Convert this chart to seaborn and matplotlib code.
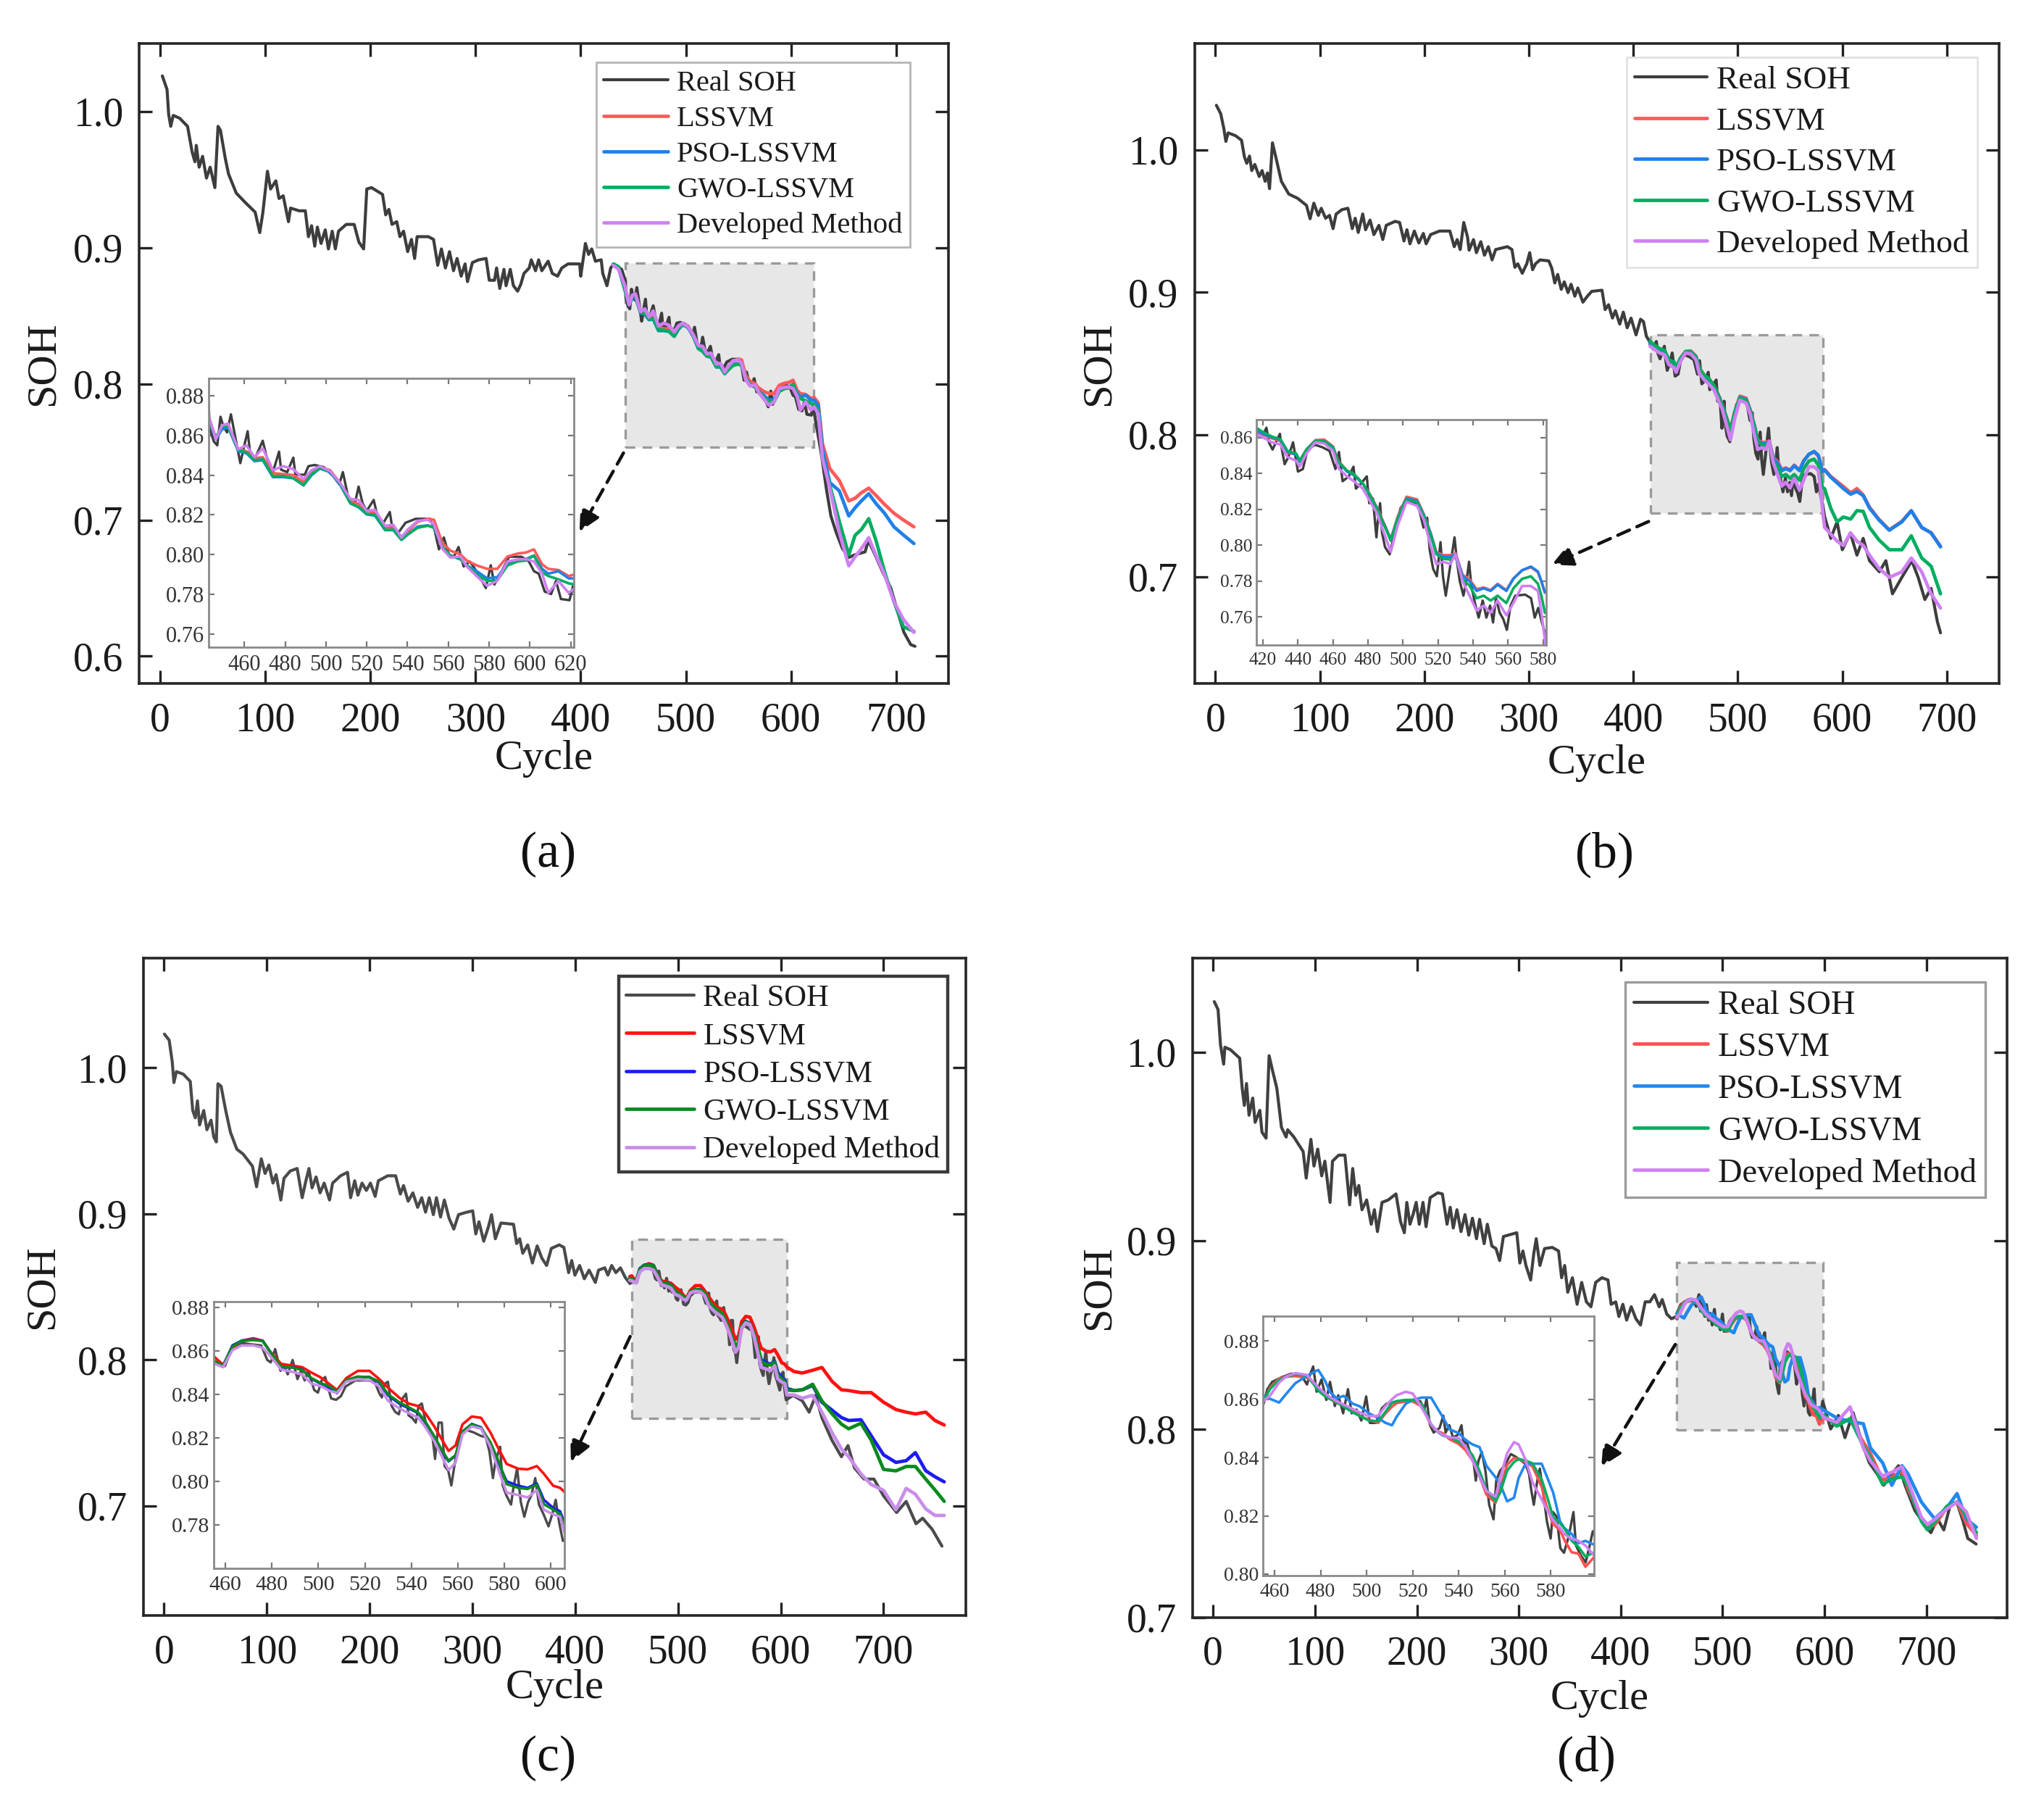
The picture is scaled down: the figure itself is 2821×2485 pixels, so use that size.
"""
plot.py
-------
Four panels of SOH estimation (real vs. LSSVM variants), each with a zoomed inset.
"""

import matplotlib
matplotlib.use("Agg")
import matplotlib.pyplot as plt
import numpy as np
import seaborn as sns
from matplotlib.patches import Rectangle

sns.set_theme(style="ticks")
plt.rcParams["font.family"] = ["Liberation Serif", "DejaVu Serif"]

# ========== 1. Data ==========
series_names = ["Real SOH", "LSSVM", "PSO-LSSVM", "GWO-LSSVM", "Developed Method"]

# --- panel (a) ---
a_cycle = [
    2, 6.5, 8, 10, 12.4, 18.4, 26, 30.4, 33, 34.3,
    37, 40.3, 44, 47.5, 52, 55, 57.3, 62, 65, 72.3,
    81, 90.3, 94.7, 97.7, 102, 105, 110, 113, 117, 122,
    124, 132, 138, 141, 144, 147, 149.5, 153, 157, 160,
    163.6, 166.6, 169.6, 177, 184.5, 189, 193.5, 196.5, 201, 211.5,
    214.5, 217.5, 220.5, 225, 228, 231.5, 235.4, 239, 242, 244.4,
    255, 260, 264, 267.5, 271.3, 275.2, 279, 282.4, 286.3, 290,
    292.3, 297, 303, 310, 313, 318, 320, 323, 327, 329,
    333, 336, 340, 343, 346, 351, 353, 357, 360, 363,
    369, 373, 378, 382, 388, 399, 400, 404.5, 407.5, 410.5,
    414, 419.5, 421, 425, 428.5, 431.5, 439, 442.5, 443, 445,
    446.7, 448.3, 449.7, 451.5, 453.4, 455.2, 458, 459.4, 461.6, 462.8,
    464.8, 469, 471, 474, 477, 478, 481, 484, 485, 489.6,
    491.4, 494.4, 499, 504, 506.5, 508.3, 511.3, 514.3, 516, 518,
    520, 523.4, 525.2, 528.2, 531.3, 532.5, 535.5, 539, 544, 551,
    553, 555.4, 557.8, 560.2, 562.7, 565, 567.5, 570.5, 572.3, 576.5,
    578.4, 580.8, 582.6, 586.2, 589.8, 595.9, 599.5, 602, 604.3, 607.3,
    610.4, 612.8, 615.2, 619.4, 621.2, 623.6, 629, 633.6, 638, 643,
    649, 655, 661, 670.5, 673.7, 680, 687, 695, 701, 707.5,
    714, 718,
]
a_real = [
    1.026, 1.016, 0.998, 0.989, 0.997, 0.995, 0.989, 0.970, 0.963, 0.975,
    0.959, 0.967, 0.951, 0.959, 0.944, 0.989, 0.986, 0.965, 0.954, 0.940,
    0.933, 0.926, 0.911, 0.926, 0.956, 0.943, 0.949, 0.936, 0.938, 0.919,
    0.929, 0.927, 0.927, 0.908, 0.916, 0.901, 0.915, 0.903, 0.913, 0.899,
    0.912, 0.899, 0.912, 0.917, 0.917, 0.904, 0.899, 0.943, 0.944, 0.939,
    0.924, 0.928, 0.917, 0.919, 0.908, 0.912, 0.897, 0.906, 0.892, 0.908,
    0.908, 0.906, 0.887, 0.899, 0.885, 0.897, 0.883, 0.892, 0.879, 0.888,
    0.875, 0.889, 0.891, 0.892, 0.876, 0.876, 0.885, 0.870, 0.884, 0.872,
    0.884, 0.872, 0.868, 0.873, 0.881, 0.885, 0.891, 0.883, 0.891, 0.883,
    0.890, 0.881, 0.879, 0.885, 0.888, 0.888, 0.879, 0.903, 0.895, 0.899,
    0.890, 0.891, 0.881, 0.872, 0.885, 0.888, 0.884, 0.8755, 0.8633, 0.857,
    0.855, 0.8694, 0.8645, 0.8615, 0.8706, 0.861, 0.846, 0.8524, 0.8621, 0.8512,
    0.8475, 0.8573, 0.8488, 0.8415, 0.8518, 0.8427, 0.8415, 0.8488, 0.8402, 0.8402,
    0.8445, 0.8451, 0.844, 0.839, 0.8354, 0.8415, 0.8269, 0.8263, 0.8342, 0.8257,
    0.822, 0.8275, 0.8196, 0.816, 0.8214, 0.8135, 0.811, 0.816, 0.818, 0.818,
    0.8135, 0.8026, 0.8086, 0.8001, 0.7989, 0.8038, 0.794, 0.7965, 0.794, 0.7867,
    0.7831, 0.7946, 0.7849, 0.7916, 0.7989, 0.7989, 0.7965, 0.7916, 0.7904, 0.7813,
    0.7801, 0.7867, 0.7776, 0.777, 0.7843, 0.772, 0.748, 0.7234, 0.703, 0.691,
    0.679, 0.6725, 0.6745, 0.6766, 0.685, 0.6745, 0.6623, 0.650, 0.634, 0.6175,
    0.6085, 0.6073,
]
a_pred_cycle = [
    431, 436, 442, 446, 449, 452, 457, 461, 465, 469,
    474, 479, 484, 489, 493, 497, 502, 507, 512, 516,
    520, 524, 529, 533, 537, 540, 545, 550, 553, 557,
    561, 566, 569, 574, 579, 584, 589, 594, 598, 602,
    606, 609, 614, 619, 622, 626, 630, 637, 646, 655,
    661, 667, 674, 681, 689, 698, 707, 717,
]
a_lssvm = [
    0.887, 0.885, 0.870, 0.859, 0.864, 0.8645, 0.853, 0.852, 0.8485, 0.849,
    0.841, 0.8405, 0.840, 0.8365, 0.841, 0.844, 0.8425, 0.836, 0.827, 0.8255,
    0.822, 0.821, 0.814, 0.8135, 0.809, 0.8115, 0.8165, 0.818, 0.8175, 0.806,
    0.802, 0.800, 0.797, 0.7945, 0.7928, 0.7928, 0.799, 0.8005, 0.801, 0.8026,
    0.795, 0.7928, 0.7922, 0.7892, 0.790, 0.786, 0.756, 0.7377, 0.729, 0.714,
    0.716, 0.720, 0.7234, 0.718, 0.7115, 0.705, 0.700, 0.695,
]
a_pso = [
    0.887, 0.885, 0.869, 0.858, 0.863, 0.864, 0.852, 0.851, 0.847, 0.8475,
    0.839, 0.839, 0.8384, 0.8348, 0.840, 0.8433, 0.8415, 0.8350, 0.8257, 0.8238,
    0.8202, 0.8196, 0.8123, 0.8123, 0.8074, 0.810, 0.8141, 0.8147, 0.8135, 0.8038,
    0.7995, 0.7977, 0.7946, 0.7916, 0.788, 0.7886, 0.7953, 0.7971, 0.7977, 0.7995,
    0.7928, 0.7904, 0.7916, 0.788, 0.788, 0.784, 0.752, 0.7275, 0.7214, 0.703,
    0.709, 0.714, 0.7193, 0.712, 0.705, 0.695, 0.689, 0.6827,
]
a_gwo = [
    0.888, 0.886, 0.869, 0.859, 0.8645, 0.8645, 0.8525, 0.8515, 0.8475, 0.848,
    0.8395, 0.8395, 0.8385, 0.835, 0.8405, 0.8435, 0.842, 0.8355, 0.826, 0.824,
    0.8205, 0.820, 0.8125, 0.8125, 0.8075, 0.810, 0.8135, 0.8145, 0.8135, 0.804,
    0.7995, 0.7975, 0.7945, 0.790, 0.7867, 0.787, 0.7945, 0.7965, 0.797, 0.7995,
    0.791, 0.7892, 0.7875, 0.7855, 0.7849, 0.780, 0.745, 0.7255, 0.699, 0.6745,
    0.6888, 0.693, 0.701, 0.6847, 0.6623, 0.640, 0.6216, 0.6183,
]
a_dev = [
    0.887, 0.884, 0.872, 0.858, 0.865, 0.866, 0.853, 0.855, 0.849, 0.8535,
    0.8425, 0.8445, 0.843, 0.838, 0.8425, 0.8445, 0.842, 0.836, 0.828, 0.8275,
    0.822, 0.8225, 0.8145, 0.815, 0.8085, 0.8125, 0.817, 0.8175, 0.815, 0.803,
    0.7985, 0.799, 0.794, 0.789, 0.7843, 0.7867, 0.7965, 0.7975, 0.7977, 0.7965,
    0.7904, 0.7807, 0.7867, 0.7807, 0.7831, 0.778, 0.745, 0.7234, 0.691, 0.6664,
    0.673, 0.679, 0.687, 0.674, 0.660, 0.640, 0.627, 0.6175,
]

# --- panel (b) ---
b_cycle = [
    0.9, 5.1, 8, 10, 12.2, 19.3, 25, 27.8, 30, 32.6,
    34.8, 37.7, 41.9, 44.7, 47.6, 49.8, 51.8, 54.6, 58.9, 63.1,
    70.2, 78.7, 87.2, 90.6, 94.2, 98.5, 101.3, 105.5, 109.2, 112.6,
    115.5, 121, 126.8, 131, 133.8, 136.7, 141, 143.7, 148, 151.7,
    156.5, 160.2, 163.5, 172, 176.3, 180.5, 183.3, 186.2, 190.4, 194.7,
    199, 201.7, 206, 214.5, 224.4, 228.6, 231.4, 234.3, 237.7, 241.3,
    242.8, 247, 249.8, 254, 257.5, 261.2, 264.8, 268.2, 279.5, 283.8,
    286.6, 289.4, 293.7, 298, 300.8, 303.6, 306.4, 310.7, 319.1, 322,
    324.8, 327.6, 331, 333.9, 337.5, 340.4, 344, 346.9, 351.7, 356,
    360.2, 370, 373, 376.3, 380, 382.8, 387, 390.4, 394.1, 397.8,
    402.6, 406.9, 409.7, 412.5, 415.3, 416.6, 419.3, 422, 423.4, 425.5,
    429.7, 430.6, 432.4, 434.5, 437.2, 438.6, 440, 442.8, 445.5, 449.7,
    453.8, 458, 461.4, 463.4, 465.5, 469, 471.7, 473.1, 475.9, 479.3,
    480.7, 482.8, 484.8, 485.5, 486.9, 488, 489.7, 492.4, 495.2, 498.6,
    502, 506.2, 509, 511.7, 513.8, 515.2, 517.2, 519.3, 521.4, 522.8,
    524.4, 526.9, 529.4, 530.8, 532.4, 534.5, 536.6, 537.7, 539, 541.4,
    543.2, 545.5, 547.6, 549.7, 551.4, 553.1, 555.2, 557.2, 559.3, 561.4,
    564.1, 569.7, 573.1, 575.2, 577.2, 579.3, 581.4, 583, 589, 595,
    600, 607.7, 614, 620, 626, 635.5, 641.7, 648, 657, 666.5,
    672.6, 679, 685, 691, 694,
]
b_real = [
    1.0314, 1.0254, 1.0153, 1.006, 1.012, 1.010, 1.0068, 0.995, 0.9906, 0.9957,
    0.9855, 0.9898, 0.9813, 0.9855, 0.9779, 0.9838, 0.9728, 1.005, 0.9915, 0.978,
    0.969, 0.966, 0.961, 0.9516, 0.9626, 0.954, 0.959, 0.952, 0.954, 0.9447,
    0.9549, 0.958, 0.959, 0.9447, 0.952, 0.942, 0.955, 0.9439, 0.9507, 0.9405,
    0.947, 0.937, 0.947, 0.9498, 0.949, 0.936, 0.9439, 0.934, 0.943, 0.9346,
    0.9413, 0.934, 0.9405, 0.943, 0.943, 0.932, 0.937, 0.930, 0.949, 0.9388,
    0.9295, 0.937, 0.9278, 0.9355, 0.926, 0.932, 0.9227, 0.930, 0.932, 0.930,
    0.9175, 0.920, 0.9133, 0.920, 0.9278, 0.9158, 0.920, 0.9227, 0.922, 0.9167,
    0.9065, 0.9125, 0.902, 0.9073, 0.8997, 0.9056, 0.8972, 0.903, 0.893, 0.8972,
    0.9006, 0.9014, 0.8878, 0.8912, 0.8818, 0.887, 0.8776, 0.886, 0.875, 0.8818,
    0.870, 0.881, 0.8793, 0.869, 0.8657, 0.862, 0.860, 0.8654, 0.8573, 0.8532,
    0.862, 0.8546, 0.8451, 0.8491, 0.8573, 0.8491, 0.841, 0.8424, 0.8532, 0.8559,
    0.8546, 0.8525, 0.8424, 0.8519, 0.8356, 0.8383, 0.8437, 0.8315, 0.8342, 0.8383,
    0.8234, 0.8261, 0.8044, 0.8125, 0.8234, 0.8071, 0.799, 0.7949, 0.8071, 0.8207,
    0.8247, 0.8241, 0.8207, 0.8098, 0.8153, 0.7976, 0.7868, 0.7827, 0.8017, 0.7827,
    0.7719, 0.7881, 0.8044, 0.7908, 0.780, 0.7719, 0.7827, 0.7908, 0.7773, 0.7664,
    0.7597, 0.7692, 0.7597, 0.7664, 0.757, 0.7705, 0.7624, 0.759, 0.7529, 0.7664,
    0.7719, 0.7725, 0.7705, 0.7597, 0.7651, 0.757, 0.7502, 0.7425, 0.727, 0.7386,
    0.719, 0.7308, 0.7152, 0.727, 0.7113, 0.7035, 0.7113, 0.688, 0.6996, 0.7113,
    0.6996, 0.684, 0.6918, 0.6684, 0.6606,
]
b_pred_cycle = [
    416, 420, 425, 430, 434, 439, 441, 445, 450, 455,
    460, 463, 468, 472, 477, 481, 485, 490, 493, 497,
    502, 508, 512, 516, 519, 523, 527, 530, 534, 538,
    542, 546, 550, 554, 559, 563, 568, 573, 577, 579,
    581, 583, 589, 595, 601, 608, 614, 620, 626, 635,
    645, 657, 666, 676, 685, 694,
]
b_lssvm = [
    0.8635, 0.8615, 0.8595, 0.858, 0.8515, 0.8505, 0.847, 0.8535, 0.8585, 0.8588,
    0.855, 0.847, 0.8415, 0.8395, 0.8345, 0.8285, 0.8212, 0.8103, 0.8035, 0.816,
    0.827, 0.8255, 0.817, 0.8062, 0.7962, 0.7945, 0.7945, 0.7955, 0.7835, 0.781,
    0.7755, 0.7765, 0.775, 0.7785, 0.775, 0.7815, 0.786, 0.7878, 0.785, 0.7797,
    0.7735, 0.7755, 0.7705, 0.767, 0.7635, 0.759, 0.762, 0.7575, 0.749, 0.7405,
    0.733, 0.739, 0.7465, 0.7345, 0.731, 0.7215,
]
b_pso = [
    0.864, 0.862, 0.860, 0.8586, 0.852, 0.8505, 0.8464, 0.8532, 0.858, 0.858,
    0.8546, 0.8464, 0.841, 0.839, 0.8342, 0.8281, 0.8207, 0.8098, 0.803, 0.8153,
    0.8261, 0.8247, 0.8166, 0.8058, 0.7956, 0.7936, 0.7936, 0.795, 0.7827, 0.780,
    0.7746, 0.776, 0.7746, 0.778, 0.7746, 0.7813, 0.7861, 0.7881, 0.7854, 0.780,
    0.7739, 0.775, 0.770, 0.766, 0.762, 0.758, 0.760, 0.757, 0.7483, 0.740,
    0.7327, 0.7386, 0.7464, 0.7347, 0.7308, 0.721,
]
b_gwo = [
    0.8655, 0.863, 0.8605, 0.859, 0.8525, 0.851, 0.847, 0.8535, 0.858, 0.8578,
    0.8545, 0.8465, 0.8415, 0.8395, 0.8345, 0.828, 0.8205, 0.8095, 0.8025, 0.815,
    0.8255, 0.824, 0.816, 0.805, 0.795, 0.7925, 0.792, 0.7935, 0.781, 0.7775,
    0.7705, 0.7719, 0.7692, 0.7719, 0.7678, 0.776, 0.7813, 0.7827, 0.7786, 0.7719,
    0.7624, 0.762, 0.748, 0.7386, 0.742, 0.7405, 0.7465, 0.746, 0.7347, 0.726,
    0.719, 0.719, 0.7288, 0.7132, 0.7074, 0.688,
]
b_dev = [
    0.862, 0.860, 0.8573, 0.856, 0.8491, 0.847, 0.8437, 0.8512, 0.8573, 0.8566,
    0.8525, 0.843, 0.8383, 0.8356, 0.8315, 0.8247, 0.818, 0.8044, 0.7963, 0.8112,
    0.8241, 0.822, 0.8139, 0.799, 0.7895, 0.7908, 0.7895, 0.795, 0.780, 0.7719,
    0.7637, 0.7664, 0.7624, 0.7692, 0.761, 0.7678, 0.7773, 0.7773, 0.7746, 0.7624,
    0.7475, 0.7347, 0.730, 0.725, 0.722, 0.7308, 0.725, 0.722, 0.7152, 0.706,
    0.6996, 0.7035, 0.7132, 0.7035, 0.688, 0.678,
]

# --- panel (c) ---
c_cycle = [
    0.4, 5, 8, 9.6, 12, 18.7, 25.5, 27.9, 30.4, 32.5,
    34.6, 38.6, 41.7, 45.7, 48.4, 50.9, 52.4, 55.5, 60, 64.6,
    70.8, 76.9, 86, 90, 94.6, 98.3, 102, 106, 109, 113.6,
    116.7, 122.8, 129.5, 134.4, 138, 141, 144, 147.9, 151.8, 155.8,
    161, 164, 171.7, 178.5, 181.5, 185.5, 188.6, 192.6, 196.8, 200.8,
    205.4, 208.5, 217.6, 225.3, 229.9, 233, 237.5, 242.1, 246.7, 250.7,
    254.4, 258, 262, 265, 269, 272.7, 277.3, 281.9, 286.5, 294,
    300.3, 303.3, 306.4, 311, 315.6, 318.6, 322.3, 327.8, 340, 343,
    346, 349, 353.8, 358.4, 363, 367.6, 372.2, 376.8, 384.4, 389,
    393.6, 396.6, 399.7, 404.3, 408.9, 413.5, 419.6, 422.7, 428.8, 431.8,
    435.5, 439.5, 444, 448.7, 453.3, 455.1, 459.8, 462.9, 467.1, 471.2,
    475.4, 478, 479.5, 481.4, 483.7, 485.2, 486.8, 488.9, 491, 492.5,
    494.1, 495.6, 498.2, 499.8, 501.4, 502.9, 505.5, 507.6, 509.7, 511.7,
    515.9, 521.1, 524.2, 526.3, 527.3, 528.4, 529.9, 531.5, 533, 534.6,
    536.2, 537.7, 538.8, 540.3, 541.9, 543.1, 544.5, 546, 547.6, 549.1,
    550.2, 551.7, 553.1, 554.3, 555.9, 557.2, 558.5, 560.6, 563.7, 566.8,
    569.9, 572, 573.6, 575.1, 576.2, 578.2, 579.3, 580.8, 582.9, 583.9,
    585.5, 587.1, 588.6, 590.2, 591.7, 593.3, 594.9, 596.9, 599, 600.6,
    602.1, 603.7, 605.2, 612, 621, 627.6, 634, 640, 649.7, 659,
    665.4, 671.7, 681, 690.6, 700, 712.7, 722, 731.6, 738, 747.3,
    756.8,
]
c_real = [
    1.023, 1.0188, 1.0039, 0.9898, 0.9973, 0.9956, 0.9906, 0.9707, 0.9657, 0.9773,
    0.9608, 0.9707, 0.9575, 0.9641, 0.9525, 0.9492, 0.989, 0.9873, 0.9707, 0.9558,
    0.9442, 0.9409, 0.9326, 0.9185, 0.9376, 0.9276, 0.9334, 0.921, 0.9268, 0.9094,
    0.9243, 0.9293, 0.931, 0.911, 0.9226, 0.931, 0.9177, 0.9252, 0.9143, 0.921,
    0.9094, 0.921, 0.926, 0.9284, 0.911, 0.9226, 0.9127, 0.921, 0.916, 0.921,
    0.9119, 0.9226, 0.926, 0.926, 0.9135, 0.9193, 0.9086, 0.9143, 0.9044, 0.911,
    0.9011, 0.911, 0.8994, 0.911, 0.8978, 0.9094, 0.897, 0.8895, 0.8994, 0.901,
    0.902, 0.8862, 0.8945, 0.8812, 0.8911, 0.8994, 0.8829, 0.8937, 0.8928, 0.8796,
    0.8829, 0.873, 0.8787, 0.8663, 0.878, 0.8696, 0.8646, 0.8763, 0.8787, 0.877,
    0.8597, 0.868, 0.858, 0.8646, 0.8555, 0.8614, 0.853, 0.8614, 0.863, 0.858,
    0.8646, 0.8597, 0.863, 0.8564, 0.8522, 0.8547, 0.853, 0.8614, 0.8636, 0.863,
    0.8625, 0.8558, 0.8547, 0.8608, 0.8508, 0.8536, 0.8492, 0.8558, 0.847, 0.8508,
    0.8464, 0.8508, 0.842, 0.8408, 0.8464, 0.848, 0.8381, 0.8375, 0.8392, 0.8436,
    0.8464, 0.8464, 0.8458, 0.8403, 0.8386, 0.8447, 0.8458, 0.8347, 0.832, 0.8308,
    0.8381, 0.8403, 0.8303, 0.8292, 0.827, 0.8347, 0.8358, 0.828, 0.8225, 0.8203,
    0.8103, 0.827, 0.827, 0.807, 0.8048, 0.7981, 0.807, 0.8203, 0.8236, 0.8225,
    0.8209, 0.8203, 0.8137, 0.8015, 0.8092, 0.8159, 0.7981, 0.7937, 0.7893, 0.797,
    0.8059, 0.7904, 0.7837, 0.7904, 0.7937, 0.8015, 0.7893, 0.7848, 0.7793, 0.7848,
    0.7915, 0.7804, 0.7726, 0.7757, 0.7719, 0.7642, 0.7757, 0.7604, 0.7451, 0.7337,
    0.7413, 0.726, 0.7184, 0.7184, 0.7069, 0.6955, 0.7031, 0.6878, 0.6916, 0.684,
    0.6725,
]
c_pred_cycle = [
    453, 455, 459, 463, 467, 472, 476, 479, 484, 489,
    493, 497, 501, 505, 508, 512, 517, 522, 526, 530,
    535, 539, 543, 546, 550, 553, 556, 559, 562, 566,
    570, 574, 578, 581, 586, 590, 594, 597, 601, 604,
    606, 613, 621, 631, 640, 650, 659, 666, 678, 688,
    700, 712, 722, 731, 741, 750, 759,
]
c_lssvm = [
    0.857, 0.8575, 0.8536, 0.8614, 0.8647, 0.8658, 0.8647, 0.860, 0.854, 0.8532,
    0.8525, 0.850, 0.8478, 0.8445, 0.842, 0.8475, 0.8508, 0.8508, 0.8472, 0.843,
    0.8383, 0.8357, 0.8346, 0.8314, 0.825, 0.8195, 0.814, 0.8165, 0.8262, 0.8298,
    0.8292, 0.8225, 0.814, 0.808, 0.8058, 0.8055, 0.807, 0.8035, 0.798, 0.797,
    0.795, 0.792, 0.791, 0.7929, 0.7948, 0.7852, 0.7795, 0.779, 0.7776, 0.7776,
    0.771, 0.766, 0.7642, 0.763, 0.7642, 0.7585, 0.7554,
]
c_pso = [
    0.8555, 0.8553, 0.853, 0.8625, 0.8647, 0.8652, 0.8647, 0.860, 0.8523, 0.8525,
    0.8514, 0.8472, 0.8449, 0.843, 0.8405, 0.8464, 0.848, 0.848, 0.8455, 0.8395,
    0.8356, 0.8335, 0.8313, 0.827, 0.820, 0.814, 0.8092, 0.8118, 0.8228, 0.8264,
    0.8248, 0.817, 0.8072, 0.800, 0.798, 0.797, 0.799, 0.7915, 0.7878, 0.7862,
    0.7804, 0.779, 0.7795, 0.7825, 0.771, 0.7655, 0.7605, 0.7585, 0.759, 0.748,
    0.735, 0.7298, 0.731, 0.7365, 0.7241, 0.720, 0.7165,
]
c_gwo = [
    0.8557, 0.8556, 0.8532, 0.862, 0.8645, 0.865, 0.8645, 0.860, 0.8527, 0.8523,
    0.8512, 0.8475, 0.8452, 0.8436, 0.8412, 0.8466, 0.8482, 0.8478, 0.846, 0.840,
    0.8362, 0.834, 0.8316, 0.8275, 0.8205, 0.8146, 0.8095, 0.812, 0.823, 0.8262,
    0.8245, 0.818, 0.8081, 0.7987, 0.797, 0.7965, 0.7985, 0.7895, 0.787, 0.785,
    0.7793, 0.779, 0.7795, 0.7833, 0.7719, 0.763, 0.756, 0.7528, 0.7566, 0.745,
    0.725, 0.724, 0.727, 0.727, 0.7184, 0.711, 0.7031,
]
c_dev = [
    0.8545, 0.8542, 0.8525, 0.8603, 0.8625, 0.8625, 0.8614, 0.858, 0.8514, 0.8503,
    0.8492, 0.8449, 0.8438, 0.8415, 0.8407, 0.8458, 0.847, 0.8464, 0.8438, 0.837,
    0.8334, 0.8313, 0.8292, 0.825, 0.8182, 0.8118, 0.8052, 0.8085, 0.8216, 0.8253,
    0.8242, 0.8159, 0.8037, 0.7948, 0.7937, 0.7926, 0.7959, 0.787, 0.7848, 0.7837,
    0.776, 0.776, 0.7738, 0.7757, 0.7642, 0.750, 0.739, 0.7337, 0.722, 0.7146,
    0.7107, 0.6974, 0.712, 0.708, 0.698, 0.6935, 0.6935,
]

# --- panel (d) ---
d_cycle = [
    1.2, 4.9, 7.3, 10.4, 11.6, 17, 26.1, 28.6, 30.7, 32.8,
    35.3, 38.9, 41.3, 45.9, 48, 52, 55, 58, 62.6, 67.1,
    71.7, 73.2, 79.3, 88.4, 91.4, 96, 99, 102.7, 106.6, 109.7,
    114.8, 117.2, 123.3, 129.4, 134, 137, 140, 143, 146.1, 150.7,
    155.2, 158.3, 161.3, 165.8, 171.9, 179.5, 184, 187.7, 190.1, 193.2,
    196.2, 199.3, 202.3, 206, 209, 213, 220.5, 225, 229.6, 232.7,
    235.7, 239.3, 243.3, 247.2, 250.9, 254.5, 258.5, 261.5, 266, 269.1,
    273.6, 277.6, 281.2, 284.9, 293.4, 298, 301, 304, 307, 311.6,
    314.7, 317.1, 320.7, 325.3, 332.9, 339, 342, 345, 348, 352.6,
    357.2, 361.7, 366.3, 370.8, 375.4, 381.5, 387.5, 390.6, 395.1, 398.2,
    402.1, 405.8, 410.3, 414.9, 419.4, 424, 428.6, 433.1, 437.7, 440.7,
    445.2, 449.8, 454.4, 455.3, 456.9, 459, 463.1, 467.3, 471.5, 474.1,
    475.2, 476.8, 478.3, 480.4, 482.5, 484.1, 486.2, 487.7, 489.8, 491.9,
    493.5, 495.6, 497.7, 499.8, 501.4, 504, 506.6, 508.7, 511.3, 517.6,
    523.4, 524.9, 526, 527.5, 529.1, 531.7, 533.3, 534.3, 535.9, 537.5,
    539.6, 541.2, 542.2, 543.2, 544.8, 546.4, 547.4, 548.5, 550, 551.6,
    553.2, 555.1, 556.3, 557.9, 560, 562.6, 564.7, 568.9, 570.5, 571.5,
    572.6, 574.1, 575.2, 576.8, 578.3, 579.9, 580.9, 582.5, 584.1, 585.7,
    587.8, 589.8, 590.9, 593, 595.1, 596.6, 598.2, 606, 613.6, 620,
    628, 637.7, 644, 651.6, 658, 666, 672.6, 679, 688.5, 698,
    704.3, 710.7, 717, 723.4, 729.7, 736, 740.5, 748.7,
]
d_real = [
    1.0269, 1.0227, 1.004, 0.9937, 1.0027, 1.0014, 0.9969, 0.9808, 0.9718, 0.9834,
    0.9666, 0.9757, 0.9628, 0.9692, 0.9576, 0.9544, 0.9982, 0.9911, 0.9808, 0.9602,
    0.955, 0.9589, 0.955, 0.9473, 0.9332, 0.9538, 0.9396, 0.9486, 0.9344, 0.9422,
    0.9203, 0.9422, 0.9454, 0.9454, 0.919, 0.9383, 0.9241, 0.9293, 0.9164, 0.9216,
    0.9087, 0.9164, 0.9048, 0.9203, 0.9216, 0.9248, 0.910, 0.9042, 0.9203, 0.9087,
    0.9138, 0.9203, 0.9087, 0.9203, 0.9074, 0.9228, 0.9254, 0.9248, 0.9087, 0.9177,
    0.9067, 0.9164, 0.9048, 0.9138, 0.9029, 0.9119, 0.901, 0.9113, 0.8984, 0.9087,
    0.8971, 0.8958, 0.8894, 0.9022, 0.9035, 0.9042, 0.8881, 0.8945, 0.8868, 0.8791,
    0.8932, 0.901, 0.8868, 0.8958, 0.8964, 0.8945, 0.8803, 0.8868, 0.8726, 0.8803,
    0.8662, 0.8778, 0.8675, 0.8649, 0.8778, 0.8803, 0.8791, 0.8662, 0.8675, 0.8597,
    0.8662, 0.8578, 0.8649, 0.8585, 0.8552, 0.8675, 0.8675, 0.8713, 0.8649, 0.8687,
    0.861, 0.8585, 0.8597, 0.8585, 0.8635, 0.866, 0.8676, 0.8688, 0.8684, 0.8651,
    0.868, 0.8713, 0.8626, 0.8668, 0.8598, 0.866, 0.8577, 0.8614, 0.8552, 0.8635,
    0.8552, 0.8565, 0.8527, 0.861, 0.8519, 0.8519, 0.8569, 0.8585, 0.8589, 0.8598,
    0.8593, 0.856, 0.8602, 0.8511, 0.8486, 0.8502, 0.8544, 0.8486, 0.8511, 0.8469,
    0.8478, 0.8511, 0.8436, 0.8461, 0.842, 0.8387, 0.8321, 0.8387, 0.842, 0.8354,
    0.8238, 0.8188, 0.8321, 0.8354, 0.8374, 0.8412, 0.8403, 0.8379, 0.8345, 0.8288,
    0.8238, 0.8321, 0.8362, 0.8271, 0.818, 0.8122, 0.8213, 0.8197, 0.8089, 0.8073,
    0.8131, 0.8213, 0.8098, 0.8064, 0.804, 0.8089, 0.8147, 0.80, 0.8072, 0.7954,
    0.8087, 0.7909, 0.782, 0.7761, 0.7701, 0.7761, 0.7805, 0.7701, 0.7568, 0.7493,
    0.7449, 0.7523, 0.7464, 0.7597, 0.7612, 0.7508, 0.7419, 0.7389,
]
d_pred_cycle = [
    455, 458, 462, 465, 469, 474, 477, 479, 482, 484,
    487, 490, 494, 497, 501, 505, 508, 511, 513, 517,
    520, 524, 528, 531, 533, 536, 540, 543, 546, 549,
    552, 556, 558, 561, 564, 566, 569, 572, 576, 578,
    581, 584, 586, 589, 592, 595, 599, 612, 625, 638,
    645, 657, 666, 676, 682, 695, 701, 708, 720, 730,
    739, 749,
]
d_lssvm = [
    0.8585, 0.864, 0.8672, 0.8678, 0.868, 0.8674, 0.8657, 0.864, 0.8612, 0.8602,
    0.8588, 0.8578, 0.8565, 0.8543, 0.853, 0.8519, 0.855, 0.8575, 0.8587, 0.8593,
    0.8593, 0.8575, 0.851, 0.849, 0.8484, 0.8463, 0.8447, 0.8425, 0.839, 0.8337,
    0.8273, 0.8245, 0.8295, 0.8375, 0.8399, 0.8395, 0.8384, 0.837, 0.830, 0.8235,
    0.8172, 0.815, 0.8115, 0.8075, 0.807, 0.8025, 0.806, 0.803, 0.805, 0.793,
    0.787, 0.773, 0.7745, 0.7775, 0.768, 0.752, 0.7478, 0.749, 0.7582, 0.7612,
    0.750, 0.7434,
]
d_pso = [
    0.8614, 0.8602, 0.8589, 0.8618, 0.8655, 0.868, 0.8693, 0.8701, 0.8663, 0.8626,
    0.8603, 0.8612, 0.8585, 0.8576, 0.8552, 0.8536, 0.852, 0.8511, 0.854, 0.8585,
    0.8598, 0.8606, 0.8606, 0.8566, 0.854, 0.8497, 0.8484, 0.846, 0.8445, 0.8436,
    0.8372, 0.8332, 0.8308, 0.825, 0.8262, 0.833, 0.8379, 0.8379, 0.8379, 0.834,
    0.828, 0.818, 0.8157, 0.8138, 0.8106, 0.8114, 0.810, 0.8058, 0.804, 0.8028,
    0.790, 0.782, 0.7701, 0.7805, 0.776, 0.7612, 0.757, 0.7523, 0.7582, 0.7657,
    0.7523, 0.7478,
]
d_gwo = [
    0.8589, 0.8635, 0.8667, 0.8677, 0.8686, 0.8682, 0.8652, 0.863, 0.861, 0.8602,
    0.859, 0.8575, 0.8555, 0.8543, 0.8527, 0.8525, 0.8555, 0.8588, 0.8594, 0.8598,
    0.8598, 0.8584, 0.8513, 0.8487, 0.8476, 0.847, 0.8455, 0.8437, 0.8408, 0.8354,
    0.829, 0.825, 0.828, 0.8355, 0.8385, 0.8395, 0.839, 0.838, 0.8325, 0.8275,
    0.8195, 0.8175, 0.8155, 0.8115, 0.8093, 0.806, 0.8075, 0.8015, 0.8055, 0.791,
    0.785, 0.7705, 0.7735, 0.7746, 0.770, 0.751, 0.7464, 0.7505, 0.759, 0.7612,
    0.754, 0.7449,
]
d_dev = [
    0.8593, 0.8612, 0.8658, 0.8678, 0.869, 0.8684, 0.8658, 0.8642, 0.862, 0.8608,
    0.8594, 0.8582, 0.8567, 0.8555, 0.8542, 0.8544, 0.8575, 0.86, 0.8614, 0.8626,
    0.862, 0.857, 0.8515, 0.8488, 0.8478, 0.8469, 0.8467, 0.8436, 0.839, 0.8335,
    0.8285, 0.8265, 0.833, 0.8415, 0.8453, 0.8445, 0.8393, 0.8315, 0.8257, 0.8225,
    0.8185, 0.8158, 0.8136, 0.8121, 0.8114, 0.8098, 0.8062, 0.8035, 0.8117, 0.790,
    0.783, 0.775, 0.777, 0.780, 0.772, 0.753, 0.7493, 0.752, 0.7575, 0.7612,
    0.756, 0.7419,
]

# ========== 2. Panel layout / styling ==========
light_colors = ["#3d3d3d", "#ff5a5a", "#1f80e8", "#00ad5f", "#cf80f2"]
dark_colors = ["#4a4a4a", "#ff1111", "#1c1cf2", "#0a8a1e", "#c98ee8"]

panels = [
    dict(tag="(a)", tag_pos=(0.268, 0.5256),
         cycle=a_cycle, real=a_real, pcycle=a_pred_cycle, preds=[a_lssvm, a_pso, a_gwo, a_dev],
         colors=light_colors, box=[0.0681, 0.6205, 0.3960, 0.3555],
         inset=[0.1021, 0.6406, 0.1787, 0.1493],
         xlim=(-20, 750), ylim=(0.58, 1.05), yticks=[0.6, 0.7, 0.8, 0.9, 1.0],
         zx=(442.5, 621.6), zy=(0.7533, 0.8887), zxt=np.arange(460, 621, 20),
         zyt=np.arange(0.76, 0.881, 0.02), zfs=11,
         arrow_tail=-0.03, arrow_head=(1.015, 0.43),
         leg_anchor=(0.952, 0.970), leg_fs=14.6, leg_sp=0.29, leg_edge="#b5b5b5", leg_lw=1.0,
         xlab_y=-0.118, ylab_x=-0.119),
    dict(tag="(b)", tag_pos=(0.785, 0.5256),
         cycle=b_cycle, real=b_real, pcycle=b_pred_cycle, preds=[b_lssvm, b_pso, b_gwo, b_dev],
         colors=light_colors, box=[0.5844, 0.6205, 0.3936, 0.3555],
         inset=[0.6147, 0.6419, 0.1418, 0.1252],
         xlim=(-20, 750), ylim=(0.625, 1.075), yticks=[0.7, 0.8, 0.9, 1.0],
         zx=(416.3, 581.8), zy=(0.7445, 0.870), zxt=np.arange(420, 581, 20),
         zyt=np.arange(0.76, 0.861, 0.02), zfs=9.2,
         arrow_tail=-0.045, arrow_head=(1.019, 0.356),
         leg_anchor=(0.973, 0.978), leg_fs=16.3, leg_sp=0.35, leg_edge="#e2e2e2", leg_lw=1.0,
         xlab_y=-0.1245, ylab_x=-0.1186),
    dict(tag="(c)", tag_pos=(0.268, 0.0237),
         cycle=c_cycle, real=c_real, pcycle=c_pred_cycle, preds=[c_lssvm, c_pso, c_gwo, c_dev],
         colors=dark_colors, box=[0.0702, 0.1030, 0.4023, 0.3650],
         inset=[0.1046, 0.1292, 0.1717, 0.1479],
         xlim=(-20, 780), ylim=(0.625, 1.075), yticks=[0.7, 0.8, 0.9, 1.0],
         zx=(455, 606), zy=(0.760, 0.8825), zxt=np.arange(460, 601, 20),
         zyt=np.arange(0.78, 0.881, 0.02), zfs=10.8,
         arrow_tail=0.457, arrow_head=(1.0175, 0.40),
         leg_anchor=(0.978, 0.972), leg_fs=15.3, leg_sp=0.32, leg_edge="#3a3a3a", leg_lw=1.6,
         xlab_y=-0.110, ylab_x=-0.1225),
    dict(tag="(d)", tag_pos=(0.776, 0.0237),
         cycle=d_cycle, real=d_real, pcycle=d_pred_cycle, preds=[d_lssvm, d_pso, d_gwo, d_dev],
         colors=["#404040", "#ff5050", "#2288ee", "#00ad5f", "#cf80f2"],
         box=[0.5835, 0.1020, 0.3984, 0.3660],
         inset=[0.6179, 0.1252, 0.1618, 0.1439],
         xlim=(-20, 779), ylim=(0.70, 1.05), yticks=[0.7, 0.8, 0.9, 1.0],
         zx=(455, 598.6), zy=(0.7995, 0.8885), zxt=np.arange(460, 581, 20),
         zyt=np.arange(0.80, 0.881, 0.02), zfs=10,
         arrow_tail=0.51, arrow_head=(1.023, 0.42),
         leg_anchor=(0.973, 0.964), leg_fs=16.7, leg_sp=0.33, leg_edge="#9c9c9c", leg_lw=1.2,
         xlab_y=-0.1236, ylab_x=-0.115),
]

# ========== 3. Drawing ==========
fig = plt.figure(figsize=(14.105, 12.425), dpi=200)
fig.patch.set_facecolor("white")


def draw_lines(ax, p, lw_real, lw_pred, with_labels):
    kw = dict(ax=ax, sort=False, estimator=None)
    sns.lineplot(x=p["cycle"], y=p["real"], color=p["colors"][0], lw=lw_real,
                 label=series_names[0] if with_labels else None,
                 legend=with_labels, **kw)
    for name, vals, col in zip(series_names[1:], p["preds"], p["colors"][1:]):
        sns.lineplot(x=p["pcycle"], y=vals, color=col, lw=lw_pred,
                     label=name if with_labels else None,
                     legend=with_labels, **kw)


for p in panels:
    ax = fig.add_axes(p["box"])
    draw_lines(ax, p, 1.5, 1.7, True)

    x0, x1 = p["zx"]
    y0, y1 = p["zy"]
    ax.add_patch(Rectangle((x0, y0), x1 - x0, y1 - y0, facecolor="#e7e7e7",
                           edgecolor="#9a9a9a", lw=1.2, ls=(0, (4, 3)), zorder=1))

    ax.set_xlim(*p["xlim"])
    ax.set_ylim(*p["ylim"])
    ax.set_xticks(range(0, 701, 100))
    ax.set_yticks(p["yticks"])
    ax.set_yticklabels([f"{v:.1f}" for v in p["yticks"]])
    ax.tick_params(axis="both", direction="in", length=6.5, width=1.2, top=True,
                   right=True, labelsize=20, color="#222222", labelcolor="#1a1a1a")
    ax.tick_params(axis="x", pad=9)
    ax.tick_params(axis="y", pad=8)
    for s in ax.spines.values():
        s.set_linewidth(1.3)
        s.set_color("#262626")

    ax.set_xlabel("Cycle", fontsize=21, color="#1a1a1a")
    ax.set_ylabel("SOH", fontsize=21, color="#1a1a1a")
    ax.xaxis.set_label_coords(0.5, p["xlab_y"])
    ax.xaxis.label.set_verticalalignment("center")
    ax.yaxis.set_label_coords(p["ylab_x"], 0.5)
    ax.yaxis.label.set_verticalalignment("center")

    handles, labels = ax.get_legend_handles_labels()
    leg = ax.legend(handles, labels, loc="upper right", bbox_to_anchor=p["leg_anchor"],
                    fontsize=p["leg_fs"], frameon=True, fancybox=False, framealpha=1,
                    edgecolor=p["leg_edge"], handlelength=2.2, handletextpad=0.3,
                    labelspacing=p["leg_sp"], borderpad=0.25, borderaxespad=0)
    leg.get_frame().set_linewidth(p["leg_lw"])
    for t in leg.get_texts():
        t.set_color("#1a1a1a")

    # --- inset ---
    ins = fig.add_axes(p["inset"])
    draw_lines(ins, p, 1.2, 1.3, False)
    ins.set_xlim(x0, x1)
    ins.set_ylim(y0, y1)
    ins.set_xticks(p["zxt"])
    ins.set_yticks(p["zyt"])
    ins.set_yticklabels([f"{v:.2f}" for v in p["zyt"]])
    ins.set_xlabel("")
    ins.set_ylabel("")
    ins.tick_params(axis="both", direction="in", length=3, width=0.8, top=True, right=True,
                    labelsize=p["zfs"], color="#777777", labelcolor="#333333")
    ins.tick_params(axis="x", pad=3.5)
    ins.tick_params(axis="y", pad=2)
    for s in ins.spines.values():
        s.set_linewidth(1.0)
        s.set_color("#8a8a8a")

    # dashed arrow from the shaded region to the inset
    tail = (x0 - 0.01 * (x1 - x0), y0 + p["arrow_tail"] * (y1 - y0))
    ax.annotate("", xy=p["arrow_head"], xycoords=ins.transAxes, xytext=tail,
                textcoords="data",
                arrowprops=dict(arrowstyle="-|>", color="#111111", lw=1.6,
                                ls=(0, (4, 2.5)), mutation_scale=22,
                                shrinkA=0, shrinkB=0))

    fig.text(p["tag_pos"][0], p["tag_pos"][1], p["tag"], ha="center", va="center",
             fontsize=25, color="#111111")

fig.savefig("out.png", dpi=200)
print("Saved out.png")
